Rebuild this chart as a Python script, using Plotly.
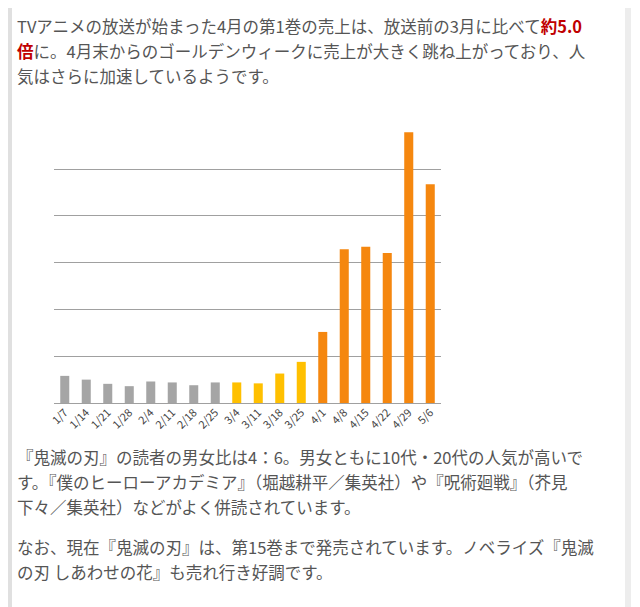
import plotly.graph_objects as go

weeks = ["1/7", "1/14", "1/21", "1/28", "2/4", "2/11", "2/18", "2/25",
         "3/4", "3/11", "3/18", "3/25", "4/1", "4/8", "4/15", "4/22", "4/29", "5/6"]
sales = [0.58, 0.50, 0.41, 0.36, 0.46, 0.44, 0.38, 0.44,
         0.44, 0.42, 0.63, 0.88, 1.52, 3.29, 3.34, 3.21, 5.79, 4.68]
period = ["jan_feb"] * 8 + ["march"] * 4 + ["after"] * 6
period_colors = {"jan_feb": "#a5a5a5", "march": "#ffc000", "after": "#f5870f"}

W, H = 640, 607
L, R, T, B = 46, 433, 114, 395


def px(x, y):
    # pixel position -> paper coords
    return (x - L) / (R - L), (B - y) / (B - T)


fig = go.Figure(go.Bar(
    x=weeks, y=sales, width=0.42,
    marker=dict(color=[period_colors[p] for p in period], line_width=0),
))

fig.update_layout(
    width=W, height=H,
    margin=dict(l=L, r=W - R, t=T, b=H - B, pad=0),
    paper_bgcolor="white", plot_bgcolor="white",
    font=dict(family="Noto Sans CJK JP", color="#555555"),
    showlegend=False,
)
fig.update_yaxes(range=[0, 6.01], tickvals=[1, 2, 3, 4, 5, 6], showticklabels=False,
                 gridcolor="#a0a0a0", gridwidth=1.3, zeroline=True,
                 zerolinecolor="#a0a0a0", zerolinewidth=1.3, automargin=False)
fig.update_xaxes(tickangle=-45, tickfont=dict(size=11, color="#444"),
                 showgrid=False, ticks="", automargin=False)

lines = [
    (18, "TVアニメの放送が始まった4月の第1巻の売上は、放送前の3月に比べて<b><span style='color:#c00000'>約5.0</span></b>"),
    (43, "<b><span style='color:#c00000'>倍</span></b>に。4月末からのゴールデンウィークに売上が大きく跳ね上がっており、人"),
    (68, "気はさらに加速しているようです。"),
    (449, "『鬼滅の刃』の読者の男女比は4：6。男女ともに10代・20代の人気が高いで"),
    (474, "す。『僕のヒーローアカデミア』（堀越耕平／集英社）や『呪術廻戦』（芥見"),
    (499, "下々／集英社）などがよく併読されています。"),
    (539, "なお、現在『鬼滅の刃』は、第15巻まで発売されています。ノベライズ『鬼滅"),
    (564, "の刃 しあわせの花』も売れ行き好調です。"),
]
for y, txt in lines:
    ax, ay = px(7, y)
    fig.add_annotation(text=txt, x=ax, y=ay, xref="paper", yref="paper",
                       xanchor="left", yanchor="middle", showarrow=False,
                       font=dict(size=16.5, color="#555555"))

# page edge strips
x0, _ = px(0, 0)
x1, _ = px(4, 0)
fig.add_shape(type="rect", xref="paper", yref="paper", x0=x0, x1=x1,
              y0=px(0, H)[1], y1=px(0, 0)[1], fillcolor="#e0e0e0", line_width=0)
x0, _ = px(617, 0)
x1, _ = px(623, 0)
fig.add_shape(type="rect", xref="paper", yref="paper", x0=x0, x1=x1,
              y0=px(0, H)[1], y1=px(0, 0)[1], fillcolor="#ededed", line_width=0)

fig.write_html("out.html")
